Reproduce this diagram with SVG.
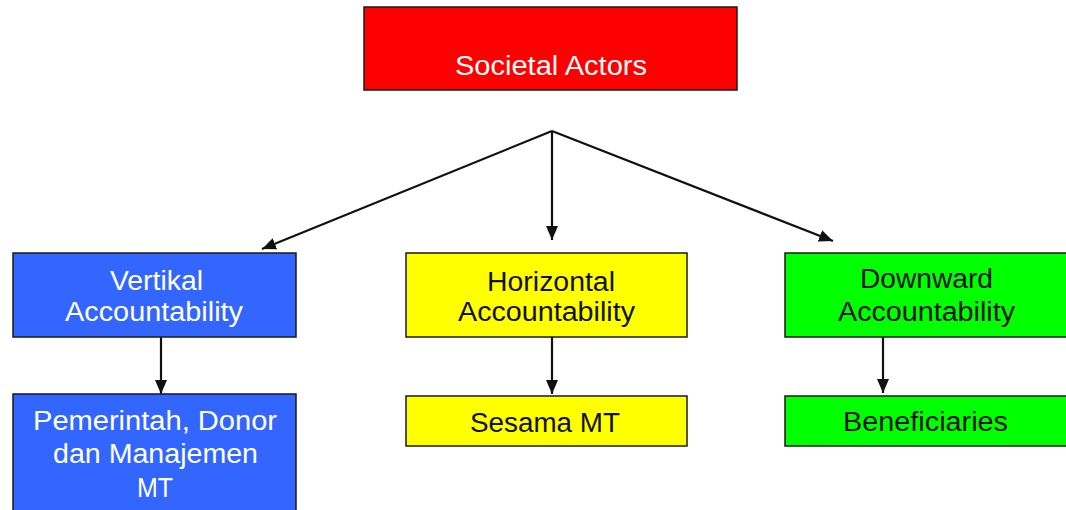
<svg xmlns="http://www.w3.org/2000/svg" width="1066" height="510" viewBox="0 0 1066 510">
<style>
.box{stroke:#1a1a1a;stroke-width:1.5}
.t{font-family:"Liberation Sans",Arial,sans-serif;font-size:27px;text-anchor:middle}
.w{fill:#ffffff}
.k{fill:#111111}
.c{stroke:#111;stroke-width:2.2;fill:none}
</style>
<defs>
<marker id="ah" viewBox="0 0 14 12" refX="14" refY="6" markerWidth="14" markerHeight="12" markerUnits="userSpaceOnUse" orient="auto">
<path d="M0,0 L14,6 L0,12 z" fill="#111"/>
</marker>
</defs>
<rect width="1066" height="510" fill="#ffffff"/>
<g id="connectors">
<path class="c" d="M552,131 L262,249" marker-end="url(#ah)"/>
<path class="c" d="M552,131 L552,240" marker-end="url(#ah)"/>
<path class="c" d="M552,131 L833,241" marker-end="url(#ah)"/>
<path class="c" d="M161,337 L161,394" marker-end="url(#ah)"/>
<path class="c" d="M552,337 L552,394" marker-end="url(#ah)"/>
<path class="c" d="M883,337 L883,393" marker-end="url(#ah)"/>
</g>
<g id="societal">
<rect class="box" x="364" y="7" width="373" height="83" fill="#ff0000"/>
<text class="t w" x="551" y="75" textLength="192" lengthAdjust="spacingAndGlyphs">Societal Actors</text>
</g>
<g id="vertikal">
<rect class="box" x="13" y="253" width="283" height="84" fill="#3366ff"/>
<text class="t w" x="156.5" y="290" textLength="93" lengthAdjust="spacingAndGlyphs">Vertikal</text>
<text class="t w" x="154" y="321" textLength="178" lengthAdjust="spacingAndGlyphs">Accountability</text>
</g>
<g id="pemerintah">
<rect class="box" x="13" y="394" width="283" height="120" fill="#3366ff"/>
<text class="t w" x="155" y="430" textLength="244" lengthAdjust="spacingAndGlyphs">Pemerintah, Donor</text>
<text class="t w" x="155.5" y="463" textLength="205" lengthAdjust="spacingAndGlyphs">dan Manajemen</text>
<text class="t w" x="155" y="497" textLength="36" lengthAdjust="spacingAndGlyphs">MT</text>
</g>
<g id="horizontal">
<rect class="box" x="406" y="253" width="281" height="84" fill="#ffff00"/>
<text class="t k" x="551" y="291" textLength="128" lengthAdjust="spacingAndGlyphs">Horizontal</text>
<text class="t k" x="546.5" y="321" textLength="177" lengthAdjust="spacingAndGlyphs">Accountability</text>
</g>
<g id="sesama">
<rect class="box" x="406" y="396" width="281" height="50" fill="#ffff00"/>
<text class="t k" x="545" y="432" textLength="150" lengthAdjust="spacingAndGlyphs">Sesama MT</text>
</g>
<g id="downward">
<rect class="box" x="785" y="253" width="290" height="84" fill="#00ff00"/>
<text class="t k" x="926.5" y="288" textLength="133" lengthAdjust="spacingAndGlyphs">Downward</text>
<text class="t k" x="926.5" y="321" textLength="177" lengthAdjust="spacingAndGlyphs">Accountability</text>
</g>
<g id="beneficiaries">
<rect class="box" x="785" y="396" width="290" height="50" fill="#00ff00"/>
<text class="t k" x="925.5" y="431" textLength="165" lengthAdjust="spacingAndGlyphs">Beneficiaries</text>
</g>
</svg>
